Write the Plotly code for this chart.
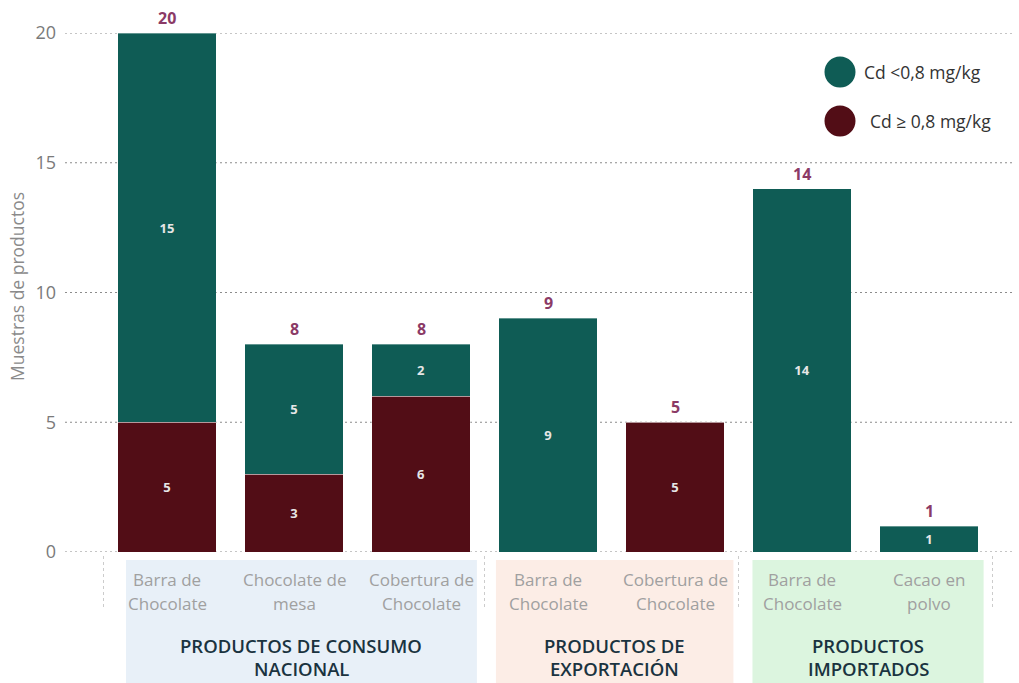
import plotly.graph_objects as go

# --- data -------------------------------------------------------------
grupos = [
    ["PRODUCTOS DE CONSUMO", "NACIONAL"],
    ["PRODUCTOS DE", "EXPORTACIÓN"],
    ["PRODUCTOS", "IMPORTADOS"],
]
productos = [
    ["Barra de", "Chocolate"],
    ["Chocolate de", "mesa"],
    ["Cobertura de", "Chocolate"],
    ["Barra de", "Chocolate"],
    ["Cobertura de", "Chocolate"],
    ["Barra de", "Chocolate"],
    ["Cacao en", "polvo"],
]
grupo_de_producto = [0, 0, 0, 1, 1, 2, 2]
cd_bajo = [15, 5, 2, 9, 0, 14, 1]   # Cd < 0,8 mg/kg
cd_alto = [5, 3, 6, 0, 5, 0, 0]     # Cd >= 0,8 mg/kg
serie_nombres = ["Cd <0,8 mg/kg", "Cd \u2265 0,8 mg/kg"]
y_ticks = [0, 5, 10, 15, 20]

# --- styling -----------------------------------------------------------
VERDE = "#0f5c55"
GRANATE = "#520d16"
TOTAL_COLOR = "#8b3a66"
FONT = "Open Sans"
W, H = 1019, 683
L, R, T, B = 65, 4, 33, 131
PW, PH = W - L - R, H - T - B


def px_x(px):
    return (px - L) / PW


def px_y(py):
    return (H - B - py) / PH


x = list(range(len(productos)))
totales = [a + b for a, b in zip(cd_bajo, cd_alto)]

fig = go.Figure()
for valores, color in [(cd_alto, GRANATE), (cd_bajo, VERDE)]:
    fig.add_trace(go.Bar(
        x=x, y=valores, width=0.772,
        marker=dict(color=color, line=dict(color="rgba(255,255,255,0.35)", width=1)),
        text=[str(v) if v else "" for v in valores],
        textposition="inside", insidetextanchor="middle", textangle=0,
        textfont=dict(family=FONT, size=13, color="#e6e6e6", weight="bold"),
        showlegend=False, hoverinfo="skip",
    ))

annotations = []
shapes = []

# dotted horizontal gridlines behind the bars
for yv in y_ticks:
    shapes.append(dict(
        type="line", xref="paper", yref="y", x0=0, x1=1, y0=yv, y1=yv,
        line=dict(color="#8c8c8c", width=1.2, dash="2px,3px"), layer="below",
    ))

# totals above the stacks
for xi, t in zip(x, totales):
    annotations.append(dict(
        x=xi, y=t, xref="x", yref="y", text=str(t), showarrow=False,
        yshift=15, font=dict(family=FONT, size=16, color=TOTAL_COLOR, weight="bold"),
    ))

# product labels (two lines each)
for xi, lineas in zip(x, productos):
    for linea, py in zip(lineas, [579, 603]):
        annotations.append(dict(
            x=xi, y=px_y(py), xref="x", yref="paper", text=linea, showarrow=False,
            yanchor="middle", font=dict(family=FONT, size=17, color="#a0a0a0"),
        ))

# group bands and labels
bandas = [(-0.323, 2.44, "#e8f0f8"), (2.59, 4.46, "#fcede6"), (4.61, 6.43, "#dcf5df")]
for g, (x0, x1, fill) in enumerate(bandas):
    shapes.append(dict(
        type="rect", xref="x", yref="paper", x0=x0, x1=x1,
        y0=px_y(683), y1=px_y(560), fillcolor=fill, line=dict(width=0), layer="below",
    ))
    xc = (x0 + x1) / 2
    for linea, py in zip(grupos[g], [645, 668]):
        annotations.append(dict(
            x=xc, y=px_y(py), xref="x", yref="paper", text=linea, showarrow=False,
            yanchor="middle", font=dict(family=FONT, size=18.5, color="#1a3340", weight=600),
        ))

# dotted separators between groups on the category axis
for xs in [-0.5, 2.5, 4.5, 6.5]:
    shapes.append(dict(
        type="line", xref="x", yref="paper", x0=xs, x1=xs,
        y0=px_y(556), y1=px_y(610), line=dict(color="#cccccc", width=1, dash="dot"),
    ))

# legend: large circles with labels
for nombre, color, cy, tx in [(serie_nombres[0], VERDE, 72, 862),
                              (serie_nombres[1], GRANATE, 121, 868)]:
    shapes.append(dict(
        type="circle", xref="paper", yref="paper", xsizemode="pixel", ysizemode="pixel",
        xanchor=px_x(840), yanchor=px_y(cy), x0=-15.5, x1=15.5, y0=-15.5, y1=15.5,
        fillcolor=color, line=dict(width=0),
    ))
    annotations.append(dict(
        x=px_x(tx), y=px_y(cy), xref="paper", yref="paper", text=nombre, showarrow=False,
        xanchor="left", yanchor="middle", font=dict(family=FONT, size=17.5, color="#333333"),
    ))

# y axis title
annotations.append(dict(
    x=px_x(17), y=px_y(287), xref="paper", yref="paper", text="Muestras de productos",
    showarrow=False, textangle=-90, xanchor="center", yanchor="middle",
    font=dict(family=FONT, size=17.5, color="#8a8a8a"),
))

fig.update_layout(
    width=W, height=H, margin=dict(l=L, r=R, t=T, b=B),
    barmode="stack", plot_bgcolor="white", paper_bgcolor="white",
    font=dict(family=FONT),
    xaxis=dict(range=[(L - 167) / 127, (W - R - 167) / 127], showticklabels=False,
               showgrid=False, zeroline=False, showline=False, ticks=""),
    yaxis=dict(range=[0, 20], tickvals=y_ticks, showgrid=False,
               zeroline=False, showline=False,
               tickfont=dict(family=FONT, size=18, color="#7a7a7a"),
               ticklabelstandoff=8),
    annotations=annotations, shapes=shapes,
)
fig.update_traces(cliponaxis=False)

fig.write_html("out.html")
